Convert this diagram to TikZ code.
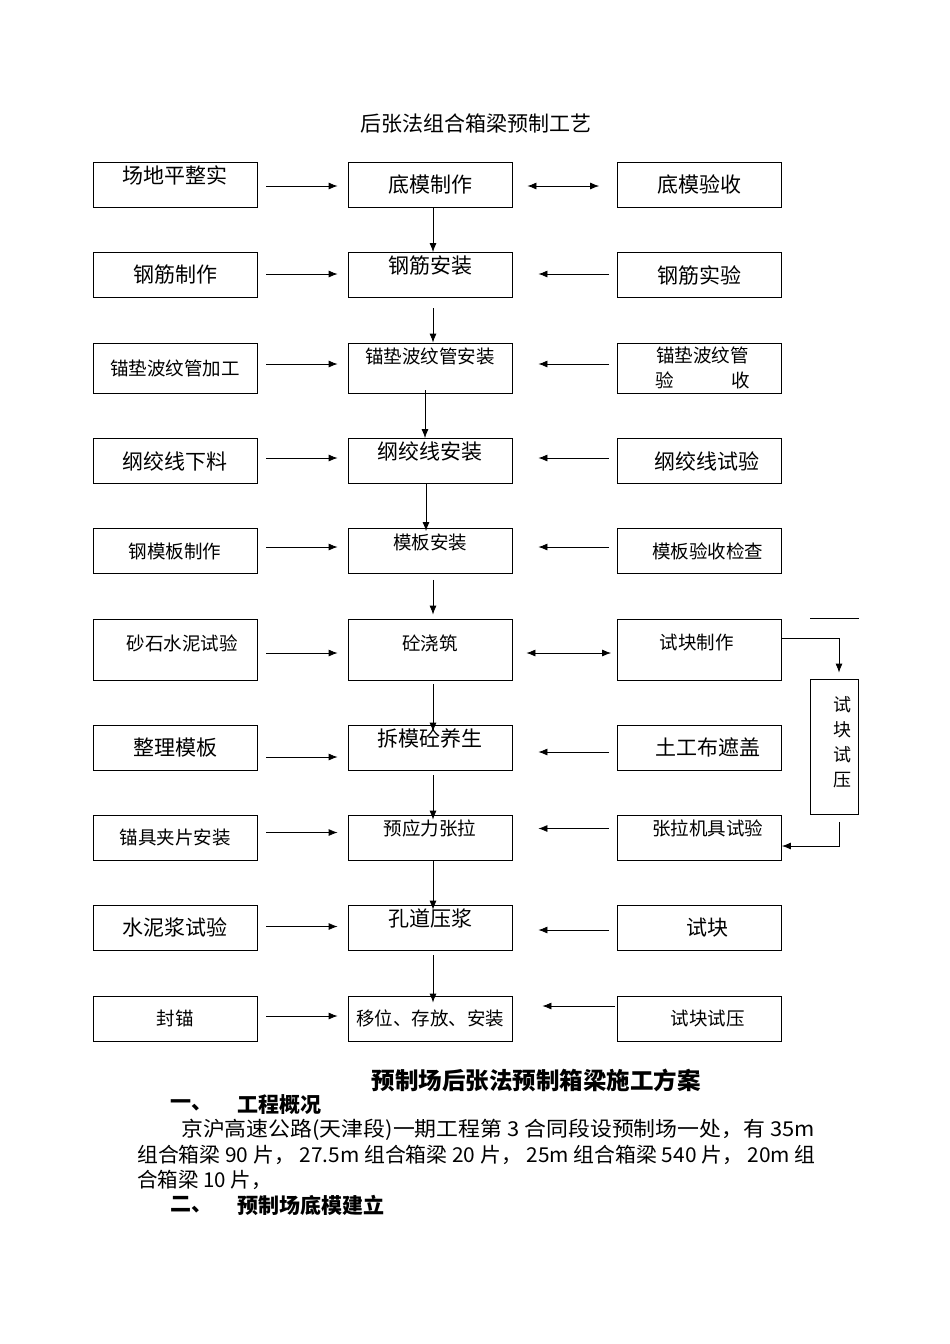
\documentclass[tikz,border=0pt]{standalone}
\usepackage{fontspec}
\setmainfont{Noto Sans CJK SC}
\usetikzlibrary{arrows.meta}
\tikzset{
  box/.style={draw, line width=0.8pt, minimum width=164pt, minimum height=45pt, inner sep=0pt},
  big/.style={font=\fontsize{21}{25}\selectfont},
  small/.style={font=\fontsize{18.5}{22}\selectfont},
  para/.style={font=\fontsize{20.5}{24}\selectfont, anchor=west, inner sep=0pt},
  arr/.style={->, >={Latex[length=9pt,width=7pt]}, line width=0.8pt},
  darr/.style={<->, >={Latex[length=9pt,width=7pt]}, line width=0.8pt},
}
\begin{document}
\begin{tikzpicture}[x=1pt,y=-1pt]
  \useasboundingbox (0,0) rectangle (950,1344);
  \node[big] (title) at (476,124) {后张法组合箱梁预制工艺};
  % row 1
  \node[box] (l1) at (175,184.5) {};
  \node[big] at ([yshift=9.5pt]l1) {场地平整实};
  \node[box,big] (m1) at (430,184.5) {底模制作};
  \node[box,big] (r1) at (699.5,184.5) {底模验收};
  % row 2
  \node[box,big] (l2) at (175,275) {钢筋制作};
  \node[box] (m2) at (430,275) {};
  \node[big] at ([yshift=9pt]m2) {钢筋安装};
  \node[box,big] (r2) at (699.5,275) {钢筋实验};
  % row 3
  \node[box,small,minimum height=50pt] (l3) at (175,368) {锚垫波纹管加工};
  \node[box,minimum height=50pt] (m3) at (430,368) {};
  \node[small] at ([yshift=12pt]m3) {锚垫波纹管安装};
  \node[box,minimum height=50pt] (r3) at (699.5,368) {};
  \node[small] at ([xshift=3pt,yshift=13pt]r3) {锚垫波纹管};
  \node[small] at ([xshift=3pt,yshift=-12pt]r3) {验\hspace{57pt}收};
  % row 4
  \node[box,big] (l4) at (175,461) {纲绞线下料};
  \node[box] (m4) at (430,461) {};
  \node[big] at ([yshift=9pt]m4) {纲绞线安装};
  \node[box] (r4) at (699.5,461) {};
  \node[big] at ([xshift=7pt]r4) {纲绞线试验};
  % row 5
  \node[box,small] (l5) at (175,551) {钢模板制作};
  \node[box] (m5) at (430,551) {};
  \node[small] at ([yshift=9pt]m5) {模板安装};
  \node[box] (r5) at (699.5,551) {};
  \node[small] at ([xshift=8pt]r5) {模板验收检查};
  % row 6
  \node[box,minimum height=61pt] (l6) at (175,649.5) {};
  \node[small] at ([xshift=7pt,yshift=6.5pt]l6) {砂石水泥试验};
  \node[box,minimum height=61pt] (m6) at (430,649.5) {};
  \node[small] at ([yshift=6.5pt]m6) {砼浇筑};
  \node[box,minimum height=61pt] (r6) at (699.5,649.5) {};
  \node[small] at ([xshift=-3pt,yshift=6.5pt]r6) {试块制作};
  % row 7
  \node[box,big] (l7) at (175,747.5) {整理模板};
  \node[box] (m7) at (430,747.5) {};
  \node[big] at ([yshift=9.5pt]m7) {拆模砼养生};
  \node[box] (r7) at (699.5,747.5) {};
  \node[big] at ([xshift=8pt]r7) {土工布遮盖};
  % row 8
  \node[box,small] (l8) at (175,837.5) {锚具夹片安装};
  \node[box] (m8) at (430,837.5) {};
  \node[small] at ([yshift=9.5pt]m8) {预应力张拉};
  \node[box] (r8) at (699.5,837.5) {};
  \node[small] at ([xshift=8pt,yshift=9.5pt]r8) {张拉机具试验};
  % row 9
  \node[box,big] (l9) at (175,927.5) {水泥浆试验};
  \node[box] (m9) at (430,927.5) {};
  \node[big] at ([yshift=9.5pt]m9) {孔道压浆};
  \node[box] (r9) at (699.5,927.5) {};
  \node[big] at ([xshift=8pt]r9) {试块};
  % row 10
  \node[box,small] (l10) at (175,1018.5) {封锚};
  \node[box,small] (m10) at (430,1018.5) {移位、存放、安装};
  \node[box] (r10) at (699.5,1018.5) {};
  \node[small] at ([xshift=8pt]r10) {试块试压};
  % side box
  \node[box,minimum width=48pt,minimum height=135pt] (side) at (834.5,747) {};
  \node[font=\fontsize{18}{25}\selectfont,align=center] at ([xshift=7.5pt,yshift=4.5pt]side) {试\\块\\试\\压};
  \draw[line width=0.8pt] ([yshift=60.5pt]side.north west) -- ([yshift=60.5pt]side.north east);
  % left arrows
  \draw[arr] ([xshift=9pt,yshift=-1.5pt]l1.east) -- ([xshift=-10pt,yshift=-1.5pt]m1.west);
  \draw[arr] ([xshift=9pt,yshift=1pt]l2.east) -- ([xshift=-10pt,yshift=1pt]m2.west);
  \draw[arr] ([xshift=9pt,yshift=4pt]l3.east) -- ([xshift=-10pt,yshift=4pt]m3.west);
  \draw[arr] ([xshift=9pt,yshift=3pt]l4.east) -- ([xshift=-10pt,yshift=3pt]m4.west);
  \draw[arr] ([xshift=9pt,yshift=4pt]l5.east) -- ([xshift=-10pt,yshift=4pt]m5.west);
  \draw[arr] ([xshift=9pt,yshift=-3.5pt]l6.east) -- ([xshift=-10pt,yshift=-3.5pt]m6.west);
  \draw[arr] ([xshift=9pt,yshift=-9.5pt]l7.east) -- ([xshift=-10pt,yshift=-9.5pt]m7.west);
  \draw[arr] ([xshift=9pt,yshift=5pt]l8.east) -- ([xshift=-10pt,yshift=5pt]m8.west);
  \draw[arr] ([xshift=9pt,yshift=1pt]l9.east) -- ([xshift=-10pt,yshift=1pt]m9.west);
  \draw[arr] ([xshift=9pt,yshift=2.5pt]l10.east) -- ([xshift=-10pt,yshift=2.5pt]m10.west);
  % right arrows
  \draw[darr] ([xshift=15pt,yshift=-1.5pt]m1.east) -- ([xshift=-18pt,yshift=-1.5pt]r1.west);
  \draw[arr] ([xshift=-8pt,yshift=1pt]r2.west) -- ([xshift=26pt,yshift=1pt]m2.east);
  \draw[arr] ([xshift=-8pt,yshift=4pt]r3.west) -- ([xshift=26pt,yshift=4pt]m3.east);
  \draw[arr] ([xshift=-8pt,yshift=3pt]r4.west) -- ([xshift=26pt,yshift=3pt]m4.east);
  \draw[arr] ([xshift=-8pt,yshift=4pt]r5.west) -- ([xshift=26pt,yshift=4pt]m5.east);
  \draw[darr] ([xshift=14pt,yshift=-3.5pt]m6.east) -- ([xshift=-6pt,yshift=-3.5pt]r6.west);
  \draw[arr] ([xshift=-8pt,yshift=-4.5pt]r7.west) -- ([xshift=26pt,yshift=-4.5pt]m7.east);
  \draw[arr] ([xshift=-8pt,yshift=9pt]r8.west) -- ([xshift=26pt,yshift=9pt]m8.east);
  \draw[arr] ([xshift=-8pt,yshift=-2.5pt]r9.west) -- ([xshift=26pt,yshift=-2.5pt]m9.east);
  \draw[arr] ([xshift=-2pt,yshift=12.5pt]r10.west) -- ([xshift=30pt,yshift=12.5pt]m10.east);
  % down arrows
  \draw[arr] ([xshift=3pt]m1.south) -- ([xshift=3pt]m2.north);
  \draw[arr] ([xshift=3pt,yshift=-10.5pt]m2.south) -- ([xshift=3pt]m3.north);
  \draw[arr] ([xshift=-5pt,yshift=3pt]m3.south) -- ([xshift=-5pt]m4.north);
  \draw[arr] ([xshift=-4pt]m4.south) -- ([xshift=-4pt,yshift=-3pt]m5.north);
  \draw[arr] ([xshift=3pt,yshift=-6pt]m5.south) -- ([xshift=3pt,yshift=4pt]m6.north);
  \draw[arr] ([xshift=3pt,yshift=-4pt]m6.south) -- ([xshift=3pt,yshift=-7pt]m7.north);
  \draw[arr] ([xshift=3pt,yshift=-5pt]m7.south) -- ([xshift=3pt,yshift=-5pt]m8.north);
  \draw[arr] ([xshift=3pt]m8.south) -- ([xshift=3pt,yshift=-5pt]m9.north);
  \draw[arr] ([xshift=3pt,yshift=-5pt]m9.south) -- ([xshift=3pt,yshift=-7pt]m10.north);
  % side loop
  \draw[arr] ([yshift=11.5pt]r6.east) -| ([xshift=4.5pt,yshift=6.5pt]side.north);
  \draw[arr] ([xshift=4.5pt,yshift=-7pt]side.south) |- ([yshift=-8.5pt]r8.east);
  % text below
  \node[font=\fontsize{23.5}{28}\selectfont\bfseries] (plan) at (536,1080) {预制场后张法预制箱梁施工方案};
  \node[para,font=\fontsize{21}{25}\selectfont\bfseries] (sec1) at (170,1105) {一、};
  \node[para,font=\fontsize{21}{25}\selectfont\bfseries] (sec1t) at (237,1105) {工程概况};
  \node[para] (p1) at (181,1130) {\scalebox{1.068}[1]{京沪高速公路(天津段)一期工程第 3 合同段设预制场一处，有 35m}};
  \node[para] (p2) at (137,1155) {\scalebox{1.018}[1]{组合箱梁 90 片， 27.5m 组合箱梁 20 片， 25m 组合箱梁 540 片， 20m 组}};
  \node[para] (p3) at (137,1180) {合箱梁 10 片，};
  \node[para,font=\fontsize{21}{25}\selectfont\bfseries] (sec2) at (170,1205) {二、};
  \node[para,font=\fontsize{21}{25}\selectfont\bfseries] (sec2t) at (237,1205) {预制场底模建立};
\end{tikzpicture}
\end{document}
